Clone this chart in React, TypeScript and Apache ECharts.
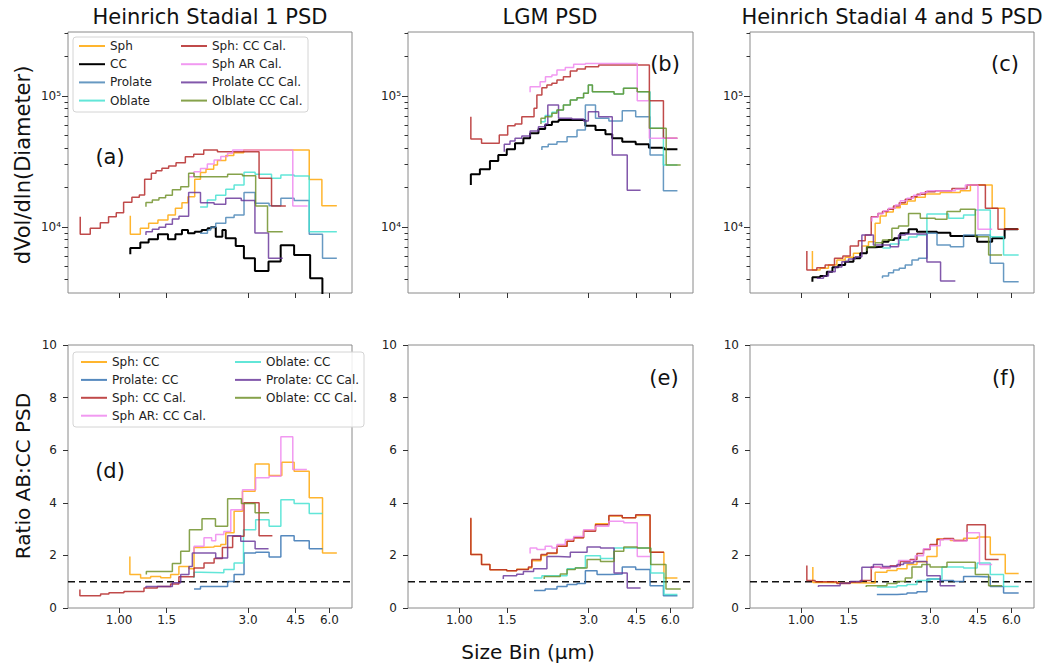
import React, { useEffect, useRef } from 'react';
import * as echarts from 'echarts';

type Pt = [number, number];

// ---------- axis values ----------
const X_MIN = 0.647;
const X_MAX = 7.27;
const X_TICKS = [1, 1.5, 3, 4.5, 6];
const X_TICK_LABELS = ['1.00', '1.5', '3.0', '4.5', '6.0'];
const PSD_MIN = 3133;
const PSD_MAX = 308000;
const PSD_MAJOR = [1e4, 1e5];
const PSD_MAJOR_LABELS = ['10⁴', '10⁵'];
const PSD_MINOR = [4e3, 5e3, 6e3, 7e3, 8e3, 9e3, 2e4, 3e4, 4e4, 5e4, 6e4, 7e4, 8e4, 9e4, 2e5, 3e5];
const RATIO_MIN = 0;
const RATIO_MAX = 10;
const RATIO_STEP = 2;
const RATIO_REF = 1;

const PANEL_TITLES = ['Heinrich Stadial 1 PSD', 'LGM PSD', 'Heinrich Stadial 4 and 5 PSD'];
const PANEL_TAGS = ['(a)', '(b)', '(c)', '(d)', '(e)', '(f)'];
const Y_TITLE_TOP = 'dVol/dln(Diameter)';
const Y_TITLE_BOTTOM = 'Ratio AB:CC PSD';
const X_TITLE = 'Size Bin (µm)';

const TOP_NAMES = ['Sph', 'CC', 'Prolate', 'Oblate', 'Sph: CC Cal.', 'Sph AR Cal.', 'Prolate CC Cal.', 'Olblate CC Cal.'];
const BOTTOM_NAMES = ['Sph: CC', 'Prolate: CC', 'Sph: CC Cal.', 'Sph AR: CC Cal.', 'Oblate: CC', 'Prolate: CC Cal.', 'Oblate: CC Cal.'];

// ---------- panel (a): Heinrich Stadial 1 PSD ----------
const A_SPH: Pt[] = [[1.1, 12200], [1.1, 8800], [1.198, 9770], [1.286, 10670], [1.392, 11300], [1.516, 12350], [1.615, 13900], [1.708, 15300], [1.798, 17000], [1.904, 23100], [2.0, 26000], [2.096, 27600], [2.238, 29700], [2.311, 32200], [2.481, 35200], [2.656, 36900], [2.89, 38700], [5.05, 23000], [5.625, 14500], [6.39, 14500]];
const A_CC: Pt[] = [[1.1, 6200], [1.1, 6900], [1.198, 7600], [1.286, 8060], [1.392, 8800], [1.516, 8060], [1.615, 8800], [1.708, 9500], [1.798, 8950], [1.904, 9200], [2.02, 9500], [2.125, 9770], [2.185, 9950], [2.278, 8430], [2.41, 9500], [2.48, 8200], [2.7, 7160], [2.895, 5770], [3.18, 4620], [3.57, 5450], [3.96, 7250], [4.44, 6110], [5.09, 4060], [5.65, 2000]];
const A_PRO: Pt[] = [[1.993, 8950], [2.122, 9500], [2.183, 9950], [2.277, 10700], [2.481, 11800], [2.663, 12350], [2.898, 18300], [3.185, 15200], [3.588, 14500], [3.966, 16600], [4.441, 15900], [5.05, 8800], [5.656, 5770], [6.39, 5770]];
const A_OBL: Pt[] = [[1.993, 14200], [2.12, 16100], [2.277, 17500], [2.481, 19400], [2.663, 20900], [2.898, 26200], [3.185, 25300], [3.663, 23500], [3.966, 24900], [4.441, 24500], [5.05, 9200], [6.39, 9200]];
const A_SCC: Pt[] = [[0.718, 11980], [0.718, 8800], [0.782, 9770], [0.852, 10790], [0.914, 11980], [0.976, 12860], [1.039, 15430], [1.115, 16860], [1.188, 17550], [1.243, 23120], [1.316, 25700], [1.369, 26900], [1.44, 28060], [1.525, 29200], [1.624, 30960], [1.758, 34400], [1.888, 35900], [2.056, 38700], [2.311, 37600], [3.294, 23500], [3.663, 14460], [4.138, 14460]];
const A_SAR: Pt[] = [[1.813, 24200], [1.893, 26400], [2.0, 28000], [2.12, 30200], [2.246, 32500], [2.377, 34500], [2.52, 36500], [2.63, 38700], [4.39, 14460], [4.98, 14460]];
const A_PCC: Pt[] = [[1.257, 8700], [1.257, 9200], [1.327, 9600], [1.404, 9950], [1.486, 10500], [1.574, 11500], [1.665, 12100], [1.808, 18300], [2.0, 15300], [2.246, 14900], [2.48, 16600], [2.83, 15900], [3.18, 9000], [3.57, 5770], [4.03, 5770]];
const A_OCC: Pt[] = [[1.257, 14300], [1.257, 15400], [1.327, 16100], [1.404, 16700], [1.486, 17500], [1.574, 19200], [1.69, 20300], [1.808, 25700], [1.893, 24200], [2.52, 25300], [2.86, 24600], [3.2, 14460], [3.54, 9200], [4.03, 9200]];

// ---------- panel (b): LGM PSD ----------
const B_CC: Pt[] = [[1.103, 20900], [1.103, 25300], [1.191, 27600], [1.297, 31900], [1.392, 35500], [1.496, 39200], [1.605, 43500], [1.723, 47500], [1.824, 51900], [1.958, 56000], [2.073, 60100], [2.195, 63700], [2.322, 65600], [2.916, 59300], [3.178, 55000], [3.458, 51000], [3.663, 47500], [3.988, 44800], [4.47, 42800], [5.0, 40300], [5.68, 39200], [6.37, 39200]];
const B_PRO: Pt[] = [[2.016, 38700], [2.016, 41000], [2.127, 42800], [2.291, 44800], [2.496, 48900], [2.716, 55000], [2.916, 85400], [3.178, 67600], [3.56, 64500], [3.988, 77300], [4.47, 69500], [5.05, 35500], [5.656, 18900], [6.37, 18900]];
const B_OBL: Pt[] = [[2.0, 63700], [2.073, 71000], [2.195, 75000], [2.291, 78200], [2.42, 85400], [2.566, 93200], [2.716, 97000], [2.872, 104900], [2.99, 121300], [3.095, 107900], [3.72, 103600], [4.03, 114500], [4.53, 107900], [5.05, 56700], [5.656, 29700], [6.37, 29700]];
const B_SCC: Pt[] = [[1.103, 69500], [1.103, 47000], [1.208, 43500], [1.404, 50400], [1.508, 59300], [1.605, 61100], [1.7, 69500], [1.886, 80600], [1.932, 101800], [2.016, 115700], [2.104, 121300], [2.195, 125000], [2.291, 132500], [2.42, 140400], [2.566, 155200], [2.716, 160700], [2.916, 167400], [3.264, 172400], [5.02, 92000], [5.656, 47500], [6.37, 47500]];
const B_SAR: Pt[] = [[1.824, 106700], [1.824, 117800], [1.986, 128500], [2.078, 140400], [2.195, 144600], [2.291, 157900], [2.459, 165000], [2.64, 174600], [2.916, 177000], [4.53, 92000], [5.02, 47500], [6.37, 47500]];
const B_PCC: Pt[] = [[1.465, 37600], [1.465, 42800], [1.538, 45300], [1.605, 47500], [1.7, 49500], [1.824, 54100], [1.958, 58300], [2.073, 61100], [2.12, 85400], [2.322, 67600], [2.603, 66700], [2.872, 64500], [2.99, 75900], [3.264, 69500], [3.663, 35500], [4.16, 19050], [4.66, 19050]];
const B_OCC: Pt[] = [[2.0, 61100], [2.0, 67600], [2.073, 69500], [2.195, 73800], [2.291, 78200], [2.42, 85400], [2.566, 93200], [2.716, 97000], [2.872, 104900], [2.99, 121300], [3.095, 107900], [3.72, 103600], [4.03, 114500], [4.53, 107900], [5.02, 56700], [5.79, 29700], [6.55, 29700]];

// ---------- panel (c): Heinrich Stadial 4 and 5 PSD ----------
const C_SPH: Pt[] = [[1.101, 6560], [1.101, 4700], [1.176, 4840], [1.262, 5130], [1.356, 5600], [1.455, 5870], [1.562, 6300], [1.678, 7160], [1.775, 7720], [1.879, 10670], [1.961, 12130], [2.065, 13000], [2.192, 14000], [2.327, 14900], [2.47, 15800], [2.644, 16860], [2.88, 17860], [3.27, 18300], [3.88, 18900], [4.23, 20900], [5.09, 13900], [5.66, 9600], [6.38, 9600]];
const C_CC: Pt[] = [[1.101, 3820], [1.101, 4130], [1.176, 4220], [1.245, 4560], [1.306, 4930], [1.374, 5130], [1.455, 5430], [1.562, 5770], [1.654, 6300], [1.751, 7000], [1.879, 7070], [2.0, 7720], [2.106, 7960], [2.21, 8200], [2.327, 8950], [2.497, 9600], [2.683, 9200], [3.182, 9050], [3.565, 8540], [4.48, 7720], [5.09, 8200], [5.66, 9600], [6.34, 9600]];
const C_PRO: Pt[] = [[2.0, 4060], [2.0, 4220], [2.106, 4480], [2.197, 4700], [2.307, 4840], [2.428, 5130], [2.571, 5600], [2.718, 5770], [2.92, 8950], [3.182, 7290], [3.565, 7070], [3.99, 8690], [5.01, 5280], [5.61, 3820], [6.38, 3820]];
const C_OBL: Pt[] = [[2.0, 6910], [2.136, 7410], [2.307, 7960], [2.497, 8400], [2.683, 8690], [2.92, 12570], [3.51, 11650], [3.99, 12350], [4.41, 13500], [5.01, 8430], [5.61, 6110], [6.38, 6110]];
const C_SCC: Pt[] = [[1.05, 6560], [1.05, 4700], [1.143, 4890], [1.227, 5130], [1.329, 5770], [1.427, 6010], [1.519, 7160], [1.629, 7860], [1.726, 8690], [1.817, 11980], [1.924, 12700], [2.0, 13100], [2.095, 13650], [2.197, 14460], [2.307, 15320], [2.428, 16260], [2.555, 17030], [2.683, 17780], [2.88, 18600], [3.134, 18900], [3.613, 19700], [4.11, 20900], [4.805, 13900], [5.35, 9600], [6.38, 9600]];
const C_SAR: Pt[] = [[1.828, 11000], [1.828, 11860], [1.924, 12700], [2.017, 13300], [2.106, 13900], [2.231, 14700], [2.327, 15880], [2.464, 16560], [2.605, 17500], [2.76, 18270], [2.92, 18900], [3.72, 19400], [4.05, 20900], [4.51, 9600], [5.09, 9600]];
const C_PCC: Pt[] = [[1.143, 4060], [1.21, 4220], [1.262, 4560], [1.337, 4950], [1.415, 5430], [1.497, 5700], [1.585, 5930], [1.678, 8690], [1.851, 7290], [2.136, 7070], [2.293, 8690], [2.428, 8840], [2.92, 5400], [3.28, 3870], [3.72, 3870]];
const C_OCC: Pt[] = [[1.751, 6560], [1.751, 7070], [1.879, 7590], [2.0, 7960], [2.167, 9770], [2.293, 10180], [2.497, 12700], [2.76, 11650], [3.134, 11450], [3.464, 13100], [3.88, 13650], [4.41, 8430], [4.94, 6110], [5.54, 6110]];

// ---------- panel (d): HS1 ratios ----------
const D_SPH: Pt[] = [[1.096, 1.96], [1.096, 1.27], [1.201, 1.14], [1.308, 1.2], [1.425, 1.15], [1.551, 1.27], [1.664, 1.58], [1.813, 1.49], [1.893, 2.3], [2.0, 2.32], [2.246, 2.35], [2.377, 2.41], [2.481, 2.86], [2.663, 3.68], [2.86, 4.44], [3.185, 5.48], [3.588, 5.04], [3.999, 5.54], [4.441, 5.2], [5.05, 4.19], [5.656, 2.09], [6.39, 2.09]];
const D_PRO: Pt[] = [[1.893, 0.72], [2.0, 0.82], [2.52, 1.01], [2.663, 1.27], [2.898, 2.09], [3.2, 2.12], [3.588, 1.94], [3.966, 2.75], [4.441, 2.56], [5.05, 2.25], [5.656, 2.25]];
const D_SCC: Pt[] = [[0.716, 0.7], [0.716, 0.47], [0.854, 0.53], [0.917, 0.58], [1.042, 0.63], [1.236, 0.76], [1.385, 0.82], [1.551, 0.91], [1.664, 1.19], [1.893, 1.52], [2.061, 1.71], [2.246, 1.88], [2.41, 2.3], [2.63, 2.73], [2.898, 4.0], [3.294, 2.75], [3.69, 2.75]];
const D_SAR: Pt[] = [[1.893, 2.09], [1.893, 2.35], [2.061, 2.67], [2.2, 2.56], [2.277, 2.79], [2.44, 2.91], [2.589, 3.74], [2.86, 4.5], [3.2, 4.95], [3.588, 5.01], [3.966, 6.51], [4.39, 5.27], [4.95, 5.27]];
const D_OBL: Pt[] = [[1.893, 1.14], [1.893, 1.36], [2.0, 1.34], [2.44, 1.46], [2.663, 1.71], [2.885, 2.98], [3.2, 3.36], [3.588, 3.11], [3.966, 4.12], [4.441, 3.97], [5.05, 3.59], [5.656, 3.59]];
const D_PCC: Pt[] = [[1.257, 0.76], [1.257, 0.82], [1.574, 0.96], [1.69, 1.27], [1.813, 1.58], [1.866, 2.09], [2.277, 1.9], [2.52, 2.75], [2.818, 2.54], [3.185, 2.25], [3.571, 2.25]];
const D_OCC: Pt[] = [[1.261, 1.27], [1.261, 1.39], [1.574, 1.69], [1.69, 2.16], [1.82, 2.98], [2.026, 3.39], [2.272, 3.11], [2.52, 4.15], [2.834, 3.97], [3.185, 3.62], [3.588, 3.62]];

// ---------- panel (e): LGM ratios ----------
const E_SPH: Pt[] = [[1.103, 3.4], [1.103, 2.03], [1.208, 1.65], [1.297, 1.45], [1.496, 1.42], [1.628, 1.47], [1.798, 1.52], [1.851, 1.8], [2.0, 2.0], [2.104, 2.07], [2.291, 2.35], [2.496, 2.54], [2.64, 2.67], [2.872, 2.95], [3.178, 3.2], [3.56, 3.5], [3.988, 3.43], [4.47, 3.52], [5.05, 2.12], [5.68, 1.14], [6.37, 1.14]];
const E_PRO: Pt[] = [[1.886, 0.67], [2.073, 0.72], [2.291, 0.82], [2.496, 0.89], [2.716, 0.93], [2.916, 1.42], [3.22, 1.27], [3.61, 1.29], [3.988, 1.56], [4.47, 1.46], [5.05, 0.85], [5.656, 0.47], [6.37, 0.47]];
const E_SCC: Pt[] = [[1.103, 3.43], [1.103, 2.03], [1.208, 1.65], [1.297, 1.45], [1.496, 1.42], [1.628, 1.46], [1.798, 1.56], [1.851, 1.84], [2.0, 2.03], [2.104, 2.09], [2.291, 2.35], [2.496, 2.54], [2.64, 2.67], [2.872, 2.92], [3.178, 3.17], [3.56, 3.52], [3.988, 3.43], [4.47, 3.55], [5.05, 2.12], [5.68, 2.12]];
const E_SAR: Pt[] = [[1.824, 2.07], [1.824, 2.28], [1.932, 2.22], [2.073, 2.35], [2.195, 2.28], [2.291, 2.41], [2.459, 2.6], [2.64, 2.72], [2.872, 2.98], [3.178, 3.11], [3.56, 3.3], [4.04, 3.24], [4.53, 1.96], [5.05, 1.96]];
const E_OBL: Pt[] = [[1.877, 1.14], [2.016, 1.23], [2.496, 1.49], [2.677, 1.53], [2.916, 1.99], [3.314, 1.88], [3.72, 2.28], [5.077, 1.33], [5.68, 0.51], [6.37, 0.51]];
const E_PCC: Pt[] = [[1.453, 1.1], [1.453, 1.23], [1.628, 1.28], [1.723, 1.39], [1.879, 1.49], [2.104, 1.96], [2.322, 1.94], [2.566, 2.12], [2.958, 2.32], [3.314, 2.28], [3.72, 1.33], [4.16, 0.76], [4.66, 0.76]];
const E_OCC: Pt[] = [[2.056, 1.1], [2.056, 1.2], [2.356, 1.29], [2.496, 1.46], [2.677, 1.52], [2.958, 1.84], [3.314, 1.77], [3.72, 2.16], [4.04, 2.32], [4.53, 2.28], [5.077, 1.65], [5.78, 0.72], [6.55, 0.72]];

// ---------- panel (f): HS4/5 ratios ----------
const F_SPH: Pt[] = [[1.105, 1.56], [1.105, 0.97], [1.245, 0.95], [1.879, 1.36], [2.077, 1.43], [2.263, 1.49], [2.464, 1.65], [2.683, 1.76], [2.92, 1.96], [3.182, 2.63], [3.565, 2.57], [3.99, 2.65], [4.48, 2.7], [5.01, 2.03], [5.69, 1.31], [6.38, 1.31]];
const F_PRO: Pt[] = [[1.906, 0.51], [2.263, 0.53], [2.464, 0.57], [2.683, 0.62], [2.92, 1.1], [3.27, 1.05], [3.665, 1.01], [3.99, 1.2], [4.48, 1.18], [5.01, 0.82], [5.61, 0.57], [6.38, 0.57]];
const F_SCC: Pt[] = [[1.05, 1.62], [1.05, 1.05], [1.127, 1.0], [1.356, 0.93], [1.519, 0.99], [1.654, 1.05], [1.817, 1.56], [1.961, 1.53], [2.136, 1.61], [2.327, 1.77], [2.53, 1.84], [2.683, 2.07], [2.837, 2.22], [3.0, 2.41], [3.182, 2.6], [3.37, 2.64], [3.665, 2.57], [4.11, 3.17], [4.805, 1.84], [5.38, 1.84]];
const F_SAR: Pt[] = [[1.828, 1.46], [1.828, 1.56], [2.0, 1.52], [2.136, 1.58], [2.293, 1.81], [2.464, 1.8], [2.644, 1.99], [2.837, 2.25], [3.0, 2.37], [3.27, 2.6], [3.665, 2.55], [4.11, 2.86], [4.57, 1.65], [5.09, 1.65]];
const F_OBL: Pt[] = [[1.906, 0.8], [2.263, 0.85], [2.464, 0.89], [2.683, 1.05], [3.0, 1.1], [3.32, 1.56], [3.99, 1.52], [4.48, 1.71], [5.01, 1.27], [5.61, 0.82], [6.38, 0.82]];
const F_PCC: Pt[] = [[1.159, 0.8], [1.159, 0.85], [1.394, 0.95], [1.519, 1.01], [1.678, 1.55], [1.851, 1.65], [2.0, 1.58], [2.263, 1.65], [2.393, 1.71], [2.605, 1.77], [2.92, 1.23], [3.27, 0.85], [3.72, 0.85]];
const F_OCC: Pt[] = [[1.741, 0.8], [1.741, 0.85], [2.077, 0.93], [2.263, 1.01], [2.428, 1.14], [2.571, 1.56], [2.796, 1.65], [3.0, 1.56], [3.464, 1.74], [4.41, 1.27], [4.94, 0.85], [5.54, 0.85]];

// ---------- styling ----------
const FONT = 'DejaVu Sans';
const COLOR: Record<string, string> = {
  'Sph': '#ffa500', 'CC': '#000000', 'Prolate': '#4682b4', 'Oblate': '#40e0d0',
  'Sph: CC Cal.': '#b22222', 'Sph AR Cal.': '#ee82ee', 'Prolate CC Cal.': '#663399', 'Olblate CC Cal.': '#6b8e23',
  'Sph: CC': '#ffa500', 'Prolate: CC': '#2f6fb0', 'Sph AR: CC Cal.': '#ee82ee', 'Oblate: CC': '#40e0d0',
  'Prolate: CC Cal.': '#663399', 'Oblate: CC Cal.': '#6b8e23',
};
const GRIDS = [
  { left: 68, top: 32, width: 284, height: 261 },
  { left: 408, top: 32, width: 285, height: 261 },
  { left: 750, top: 32, width: 284, height: 261 },
  { left: 68, top: 345, width: 284, height: 263 },
  { left: 408, top: 345, width: 285, height: 263 },
  { left: 750, top: 345, width: 284, height: 263 },
];

const TOP_PANELS: [string, Pt[]][][] = [
  [['Sph', A_SPH], ['CC', A_CC], ['Prolate', A_PRO], ['Oblate', A_OBL], ['Sph: CC Cal.', A_SCC], ['Sph AR Cal.', A_SAR], ['Prolate CC Cal.', A_PCC], ['Olblate CC Cal.', A_OCC]],
  [['CC', B_CC], ['Prolate', B_PRO], ['Oblate', B_OBL], ['Sph: CC Cal.', B_SCC], ['Sph AR Cal.', B_SAR], ['Prolate CC Cal.', B_PCC], ['Olblate CC Cal.', B_OCC]],
  [['Sph', C_SPH], ['CC', C_CC], ['Prolate', C_PRO], ['Oblate', C_OBL], ['Sph: CC Cal.', C_SCC], ['Sph AR Cal.', C_SAR], ['Prolate CC Cal.', C_PCC], ['Olblate CC Cal.', C_OCC]],
];
const BOTTOM_PANELS: [string, Pt[]][][] = [
  [['Sph: CC', D_SPH], ['Prolate: CC', D_PRO], ['Oblate: CC', D_OBL], ['Sph: CC Cal.', D_SCC], ['Sph AR: CC Cal.', D_SAR], ['Prolate: CC Cal.', D_PCC], ['Oblate: CC Cal.', D_OCC]],
  [['Sph: CC', E_SPH], ['Prolate: CC', E_PRO], ['Oblate: CC', E_OBL], ['Sph: CC Cal.', E_SCC], ['Sph AR: CC Cal.', E_SAR], ['Prolate: CC Cal.', E_PCC], ['Oblate: CC Cal.', E_OCC]],
  [['Sph: CC', F_SPH], ['Prolate: CC', F_PRO], ['Oblate: CC', F_OBL], ['Sph: CC Cal.', F_SCC], ['Sph AR: CC Cal.', F_SAR], ['Prolate: CC Cal.', F_PCC], ['Oblate: CC Cal.', F_OCC]],
];

const lg = Math.log10;

function pickLabel(values: number[], labels: string[]) {
  return (v: number) => {
    const i = values.findIndex((t) => Math.abs(lg(t) - v) < 1e-4);
    return i >= 0 ? labels[i] : '';
  };
}

function xAxisFor(gridIndex: number, showLabels: boolean) {
  return {
    type: 'value', gridIndex, min: lg(X_MIN), max: lg(X_MAX),
    axisLine: { show: false, onZero: false }, splitLine: { show: false },
    axisTick: { show: true, customValues: X_TICKS.map(lg), length: 5, lineStyle: { color: '#333' } },
    axisLabel: {
      show: showLabels, customValues: X_TICKS.map(lg), margin: 6, fontSize: 12, color: '#222', fontFamily: FONT,
      formatter: pickLabel(X_TICKS, X_TICK_LABELS),
    },
  };
}

function psdMajor(gridIndex: number) {
  return {
    type: 'value', gridIndex, position: 'left', min: lg(PSD_MIN), max: lg(PSD_MAX),
    axisLine: { show: false, onZero: false }, splitLine: { show: false },
    axisTick: { show: true, customValues: PSD_MAJOR.map(lg), length: 6, lineStyle: { color: '#333' } },
    axisLabel: {
      show: true, customValues: PSD_MAJOR.map(lg), margin: 7, fontSize: 12, color: '#222', fontFamily: FONT,
      formatter: pickLabel(PSD_MAJOR, PSD_MAJOR_LABELS),
    },
  };
}

function psdMinor(gridIndex: number) {
  return {
    type: 'value', gridIndex, position: 'left', min: lg(PSD_MIN), max: lg(PSD_MAX),
    axisLine: { show: false, onZero: false }, splitLine: { show: false },
    axisTick: { show: true, customValues: PSD_MINOR.map(lg), length: 3.5, lineStyle: { color: '#333' } },
    axisLabel: { show: false },
  };
}

function ratioAxis(gridIndex: number) {
  return {
    type: 'value', gridIndex, position: 'left', min: RATIO_MIN, max: RATIO_MAX, interval: RATIO_STEP,
    axisLine: { show: false, onZero: false }, splitLine: { show: false },
    axisTick: { show: true, length: 5, lineStyle: { color: '#333' } },
    axisLabel: { show: true, margin: 11, fontSize: 12, color: '#222', fontFamily: FONT },
  };
}

function stepSeries(name: string, pts: Pt[], xi: number, yi: number, logY: boolean) {
  const color = COLOR[name];
  return {
    type: 'line', name, xAxisIndex: xi, yAxisIndex: yi, step: 'end', symbol: 'none', showSymbol: false,
    data: pts.map(([x, y]) => [lg(x), logY ? lg(y) : y]),
    lineStyle: { color, width: name === 'CC' ? 2 : 1.5, opacity: name === 'CC' ? 1 : 0.82 },
    itemStyle: { color },
    emphasis: { disabled: true }, clip: true, silent: true, z: 2,
  };
}

function buildOption() {
  const xAxis: any[] = [];
  const yAxis: any[] = [];
  const series: any[] = [];
  for (let p = 0; p < 3; p++) {
    xAxis.push(xAxisFor(p, false));
    yAxis.push(psdMajor(p));
    yAxis.push(psdMinor(p));
  }
  for (let p = 3; p < 6; p++) {
    xAxis.push(xAxisFor(p, true));
    yAxis.push(ratioAxis(p));
  }
  TOP_PANELS.forEach((panel, p) => {
    panel.forEach(([name, pts]) => series.push(stepSeries(name, pts, p, p * 2, true)));
  });
  BOTTOM_PANELS.forEach((panel, q) => {
    const p = q + 3;
    const yi = 6 + q;
    panel.forEach(([name, pts]) => series.push(stepSeries(name, pts, p, yi, false)));
    series.push({
      type: 'line', name: 'ref', xAxisIndex: p, yAxisIndex: yi, symbol: 'none', showSymbol: false,
      data: [[lg(X_MIN), RATIO_REF], [lg(X_MAX), RATIO_REF]],
      lineStyle: { color: '#111', width: 1.5, type: [7, 4] }, silent: true, z: 1,
    });
  });

  const legendBase = {
    orient: 'vertical', itemWidth: 26, itemHeight: 12, selectedMode: false, padding: 0,
    textStyle: { fontSize: 12, color: '#222', fontFamily: FONT, lineHeight: 12 },
    lineStyle: { width: 2 },
    itemStyle: { opacity: 0 },
  };
  const legend = [
    { ...legendBase, left: 78, top: 40, itemGap: 6.2, data: TOP_NAMES.slice(0, 4) },
    { ...legendBase, left: 180, top: 40, itemGap: 6.2, data: TOP_NAMES.slice(4) },
    { ...legendBase, left: 80, top: 356, itemGap: 5.9, data: BOTTOM_NAMES.slice(0, 4) },
    { ...legendBase, left: 234, top: 356, itemGap: 5.9, data: BOTTOM_NAMES.slice(4) },
  ];

  const txt = (text: string, x: number, y: number, size: number, rotation = 0) => ({
    type: 'text', x, y, rotation, z: 10,
    style: {
      text, x: 0, y: 0, fill: '#111', fontSize: size, fontFamily: FONT,
      textAlign: 'center', textVerticalAlign: 'middle', align: 'center', verticalAlign: 'middle',
    },
  });
  const tagPos = [[110, 157], [665, 64], [1005, 64], [110, 471], [664, 378], [1004, 378]];
  const graphic: any[] = [
    { type: 'rect', z: 3, shape: { x: 73, y: 37, width: 235, height: 75, r: 3 }, style: { fill: 'rgba(255,255,255,0.85)', stroke: '#d4d4d4', lineWidth: 1 } },
    { type: 'rect', z: 3, shape: { x: 73, y: 352, width: 291, height: 75, r: 3 }, style: { fill: 'rgba(255,255,255,0.85)', stroke: '#d4d4d4', lineWidth: 1 } },
    txt(PANEL_TITLES[0], 210, 17, 21),
    txt(PANEL_TITLES[1], 550, 17, 21),
    txt(PANEL_TITLES[2], 892, 17, 21),
    txt(Y_TITLE_TOP, 23, 165, 21, Math.PI / 2),
    txt(Y_TITLE_BOTTOM, 23, 476, 20, Math.PI / 2),
    txt(X_TITLE, 528, 652, 20),
    ...PANEL_TAGS.map((t, i) => txt(t, tagPos[i][0], tagPos[i][1], 21)),
  ];

  return {
    animation: false,
    backgroundColor: '#ffffff',
    textStyle: { fontFamily: FONT },
    grid: GRIDS.map((g) => ({ ...g, show: true, borderColor: '#8a8a8a', borderWidth: 1, backgroundColor: 'transparent', containLabel: false })),
    xAxis,
    yAxis,
    series,
    legend,
    graphic,
  };
}

export default function App() {
  const ref = useRef<HTMLDivElement>(null);
  useEffect(() => {
    document.body.style.margin = '0';
    if (!ref.current) return;
    const chart = echarts.init(ref.current, undefined, { renderer: 'svg' });
    chart.setOption(buildOption() as any);
    return () => chart.dispose();
  }, []);
  return <div ref={ref} style={{ width: 1052, height: 669 }} />;
}
